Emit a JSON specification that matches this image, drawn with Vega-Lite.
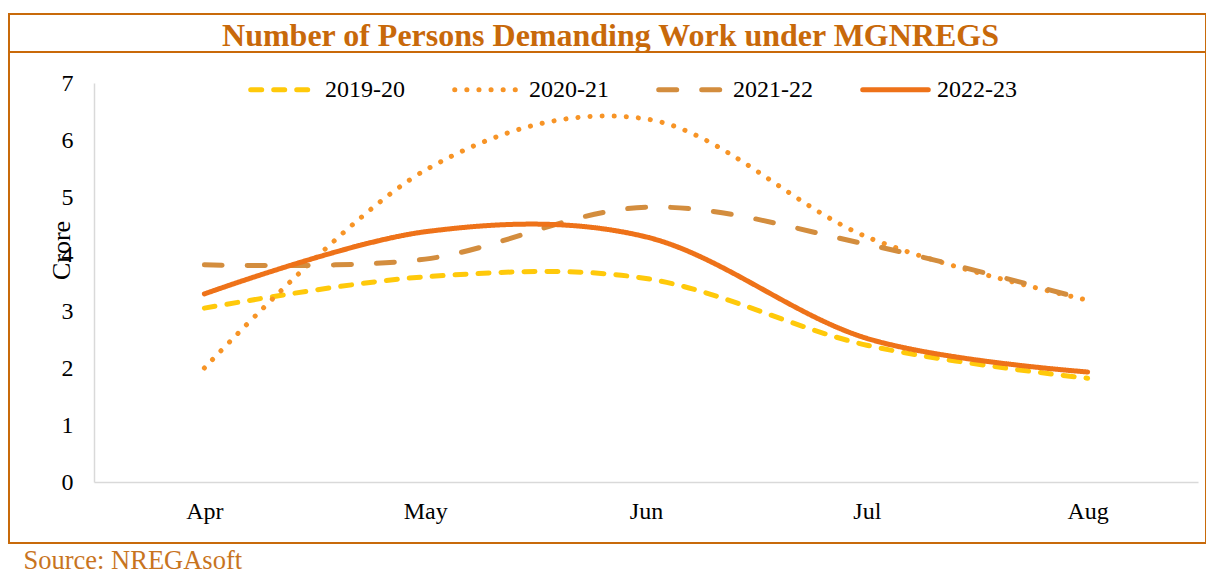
{
  "$schema": "https://vega.github.io/schema/vega-lite/v6.json",
  "width": 1197,
  "height": 529,
  "autosize": {"type": "none"},
  "padding": {"left": 9, "top": 14, "right": 0, "bottom": 27},
  "background": "white",
  "config": {
    "view": {"stroke": "#C86A0A", "strokeWidth": 2},
    "font": "Liberation Serif",
    "legend": {
      "labelFont": "Liberation Serif",
      "labelFontSize": 24,
      "labelColor": "#000000",
      "titleFont": "Liberation Serif"
    }
  },
  "data": {
    "values": [
      {"month": "Apr", "year": "2019-20", "value": 3.05},
      {"month": "May", "year": "2019-20", "value": 3.6},
      {"month": "Jun", "year": "2019-20", "value": 3.57},
      {"month": "Jul", "year": "2019-20", "value": 2.4},
      {"month": "Aug", "year": "2019-20", "value": 1.82},
      {"month": "Apr", "year": "2020-21", "value": 2.0},
      {"month": "May", "year": "2020-21", "value": 5.47},
      {"month": "Jun", "year": "2020-21", "value": 6.37},
      {"month": "Jul", "year": "2020-21", "value": 4.3},
      {"month": "Aug", "year": "2020-21", "value": 3.19},
      {"month": "Apr", "year": "2021-22", "value": 3.81},
      {"month": "May", "year": "2021-22", "value": 3.91},
      {"month": "Jun", "year": "2021-22", "value": 4.82},
      {"month": "Jul", "year": "2021-22", "value": 4.17},
      {"month": "Aug", "year": "2021-22", "value": 3.19},
      {"month": "Apr", "year": "2022-23", "value": 3.3},
      {"month": "May", "year": "2022-23", "value": 4.39},
      {"month": "Jun", "year": "2022-23", "value": 4.3},
      {"month": "Jul", "year": "2022-23", "value": 2.52},
      {"month": "Aug", "year": "2022-23", "value": 1.93}
    ]
  },
  "resolve": {"axis": {"y": "independent"}},
  "layer": [
    {
      "mark": {"type": "line", "interpolate": "cardinal", "strokeWidth": 5, "strokeCap": "round"},
      "encoding": {
        "x": {
          "field": "month",
          "type": "nominal",
          "sort": ["Apr", "May", "Jun", "Jul", "Aug"],
          "scale": {"type": "point", "range": [85, 1189], "padding": 0.5},
          "axis": {
            "title": "Source: NREGAsoft",
            "orient": "bottom",
            "offset": -61,
            "domainColor": "#D9D9D9",
            "domainWidth": 1.5,
            "ticks": false,
            "grid": false,
            "labelAngle": 0,
            "labelFont": "Liberation Serif",
            "labelFontSize": 24,
            "labelColor": "#000000",
            "labelBaseline": "alphabetic",
            "labelPadding": 36,
            "titleFont": "Liberation Serif",
            "titleFontSize": 26.5,
            "titleFontWeight": "normal",
            "titleColor": "#C8741E",
            "titleAlign": "left",
            "titleBaseline": "alphabetic",
            "titleX": 14,
            "titleY": 86
          }
        },
        "y": {
          "field": "value",
          "type": "quantitative",
          "scale": {"domain": [0, 7], "range": [468, 69], "nice": false},
          "axis": {
            "title": "Crore",
            "orient": "left",
            "offset": -85,
            "values": [0, 1, 2, 3, 4, 5, 6, 7],
            "format": "d",
            "domainColor": "#D9D9D9",
            "domainWidth": 1.5,
            "ticks": false,
            "grid": false,
            "labelFont": "Liberation Serif",
            "labelFontSize": 24,
            "labelColor": "#000000",
            "labelPadding": 21,
            "titleFont": "Liberation Serif",
            "titleFontSize": 26,
            "titleFontWeight": "normal",
            "titleColor": "#000000",
            "titleAngle": 270,
            "titleAlign": "center",
            "titleBaseline": "alphabetic",
            "titleX": -25,
            "titleY": 236
          }
        },
        "color": {
          "field": "year",
          "type": "nominal",
          "scale": {
            "domain": ["2019-20", "2020-21", "2021-22", "2022-23"],
            "range": ["#FFC90A", "#F79426", "#D38D3E", "#EE7219"]
          },
          "legend": {
            "title": null,
            "orient": "none",
            "legendX": 239,
            "legendY": 40,
            "direction": "horizontal",
            "symbolType": "stroke",
            "symbolSize": 4300,
            "symbolStrokeWidth": 5,
            "labelFont": "Liberation Serif",
            "labelFontSize": 24,
            "labelColor": "#000000",
            "labelOffset": 6,
            "labelLimit": 0,
            "columnPadding": 39,
            "padding": 0,
            "encode": {
              "symbols": {"update": {"strokeCap": {"value": "round"}}},
              "labels": {"update": {"font": {"value": "Liberation Serif"}, "fontSize": {"value": 24}}}
            }
          }
        },
        "strokeDash": {
          "field": "year",
          "type": "nominal",
          "scale": {
            "domain": ["2019-20", "2020-21", "2021-22", "2022-23"],
            "range": [[11, 12], [0.1, 12], [18, 25], [1, 0]]
          },
          "legend": {
            "title": null,
            "orient": "none",
            "legendX": 239,
            "legendY": 40,
            "direction": "horizontal",
            "symbolType": "stroke",
            "symbolSize": 4300,
            "symbolStrokeWidth": 5,
            "labelFont": "Liberation Serif",
            "labelFontSize": 24,
            "labelColor": "#000000",
            "labelOffset": 6,
            "labelLimit": 0,
            "columnPadding": 39,
            "padding": 0,
            "encode": {
              "symbols": {"update": {"strokeCap": {"value": "round"}}},
              "labels": {"update": {"font": {"value": "Liberation Serif"}, "fontSize": {"value": 24}}}
            }
          }
        }
      }
    },
    {
      "mark": {"type": "rule", "color": "#C86A0A", "strokeWidth": 1.5},
      "encoding": {
        "y": {
          "datum": 7.544,
          "type": "quantitative",
          "axis": {
            "title": "Number of Persons Demanding Work under MGNREGS",
            "orient": "right",
            "domain": false,
            "ticks": false,
            "labels": false,
            "grid": false,
            "titleFont": "Liberation Serif",
            "titleFontSize": 32,
            "titleFontWeight": "bold",
            "titleColor": "#C8690A",
            "titleAngle": 0,
            "titleAlign": "center",
            "titleBaseline": "alphabetic",
            "titleX": -596,
            "titleY": 31
          }
        }
      }
    }
  ]
}
